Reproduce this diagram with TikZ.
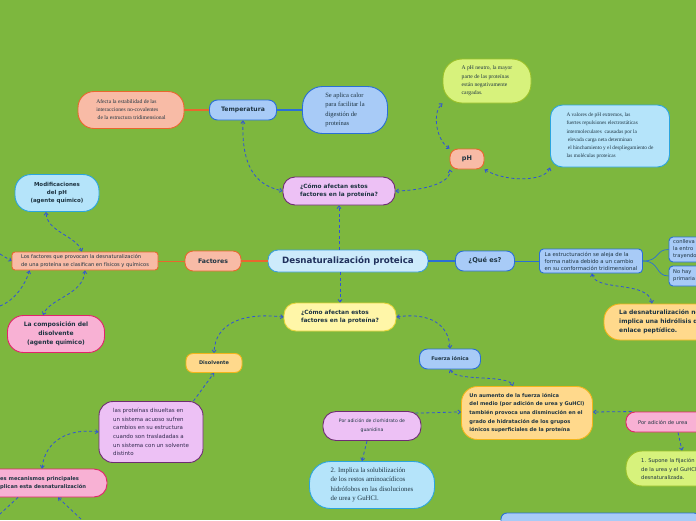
\documentclass[tikz,border=0pt]{standalone}
\usepackage{fontspec}
\setmainfont{Liberation Serif}
\setsansfont{DejaVu Sans}
\usetikzlibrary{arrows.meta,calc}
\definecolor{bg}{RGB}{125,183,62}
\definecolor{salF}{RGB}{248,187,166}
\definecolor{salD}{RGB}{233,103,46}
\definecolor{lbF}{RGB}{168,203,247}
\definecolor{lbD}{RGB}{42,111,214}
\definecolor{skF}{RGB}{181,228,250}
\definecolor{skD}{RGB}{43,165,222}
\definecolor{lavF}{RGB}{237,193,245}
\definecolor{lavD}{RGB}{110,44,115}
\definecolor{yeF}{RGB}{255,246,168}
\definecolor{yeD}{RGB}{229,212,58}
\definecolor{orF}{RGB}{255,217,140}
\definecolor{orD}{RGB}{243,181,27}
\definecolor{piF}{RGB}{248,177,212}
\definecolor{piD}{RGB}{226,35,106}
\definecolor{liF}{RGB}{215,242,124}
\definecolor{liD}{RGB}{154,192,42}
\definecolor{ceF}{RGB}{205,235,251}
\definecolor{ceD}{RGB}{60,158,219}
\definecolor{arr}{RGB}{47,82,216}
\definecolor{txt}{RGB}{30,52,66}
\definecolor{ttl}{RGB}{32,48,92}
\begin{document}
\begin{tikzpicture}[x=1pt,y=-1pt,
  box/.style={draw, line width=0.9pt, inner sep=0pt, text=txt},
  conn/.style={draw=arr, line width=0.8pt, dash pattern=on 3pt off 2.5pt, -, >={Straight Barb[length=2.5pt,width=4pt]}},
  sline/.style={line width=1.6pt},
  tline/.style={line width=0.7pt},
]
\useasboundingbox (0,0) rectangle (696,520);
\clip (0,0) rectangle (696,520);
\fill[bg] (0,0) rectangle (696,520);

% ---------- nodes ----------
\node[box, fill=ceF, draw=ceD, minimum width=160, minimum height=22, rounded corners=10pt, text=ttl,
  font=\sffamily\bfseries\fontsize{8.7}{10}\selectfont] (central) at (348,261) {Desnaturalización proteica};
\node[box, fill=salF, draw=salD, minimum width=56, minimum height=20, rounded corners=8pt,
  font=\sffamily\bfseries\fontsize{6.2}{8}\selectfont] (factores) at (213,261) {Factores};
\node[box, fill=lbF, draw=lbD, minimum width=59, minimum height=20, rounded corners=8pt,
  font=\sffamily\bfseries\fontsize{6.6}{8}\selectfont] (quees) at (485,261) {¿Qué es?};
\node[box, fill=lavF, draw=lavD, minimum width=112, minimum height=28, rounded corners=12pt, align=left,
  font=\sffamily\bfseries\fontsize{5.8}{8.5}\selectfont] (como1) at (339,191) {¿Cómo afectan estos\\factores en la proteína?};
\node[box, fill=yeF, draw=yeD, minimum width=112, minimum height=28, rounded corners=12pt, align=left,
  font=\sffamily\bfseries\fontsize{5.8}{8.5}\selectfont] (como2) at (340,317) {¿Cómo afectan estos\\factores en la proteína?};

\node[box, fill=lbF, draw=lbD, minimum width=67, minimum height=20, rounded corners=8pt,
  font=\sffamily\bfseries\fontsize{6.1}{8}\selectfont] (temp) at (243,110) {Temperatura};
\node[box, fill=salF, draw=salD, minimum width=106, minimum height=37, rounded corners=16pt, align=left,
  font=\fontsize{5.6}{8}\selectfont] (afecta) at (131,110) {Afecta la estabilidad de las\\interacciones no-covalentes\\\ de la estructura tridimensional};
\node[box, fill=lbF, draw=lbD, minimum width=85, minimum height=47, rounded corners=20pt, align=left,
  font=\fontsize{6.5}{9.3}\selectfont] (aplica) at (345,110) {Se aplica calor\\para facilitar la\\digestión de\\proteínas};

\node[box, fill=salF, draw=salD, minimum width=34, minimum height=20, rounded corners=8pt,
  font=\sffamily\bfseries\fontsize{6.5}{8}\selectfont] (ph) at (467,159) {pH};
\node[box, fill=liF, draw=liD, minimum width=88, minimum height=44, rounded corners=19pt, align=left,
  font=\fontsize{5.6}{8.3}\selectfont] (neutro) at (487,81) {A pH neutro, la mayor\\parte de las proteínas\\están negativamente\\cargadas.};
\node[box, fill=skF, draw=skD, minimum width=119, minimum height=62, rounded corners=12pt, align=left,
  font=\fontsize{5.3}{8.2}\selectfont] (valores) at (610,136) {A valores de pH extremos, las\\fuertes repulsiones electrostáticas\\intermoleculares\ \ causadas por la\\\ elevada carga neta determinan\\\ el hinchamiento y el despliegamiento de\\las moléculas proteicas};

\node[box, fill=skF, draw=skD, minimum width=84, minimum height=37, rounded corners=16pt, align=center,
  font=\sffamily\bfseries\fontsize{5.5}{8.3}\selectfont] (modif) at (57,193) {Modificaciones\\del pH\\(agente químico)};
\node[box, fill=salF, draw=salD, minimum width=146, minimum height=18, rounded corners=3pt, align=left,
  font=\sffamily\fontsize{5.1}{8}\selectfont] (lfact) at (85,261) {Los factores que provocan la desnaturalización\\de una proteína se clasifican en físicos y químicos};
\node[box, fill=piF, draw=piD, minimum width=97, minimum height=37, rounded corners=16pt, align=center,
  font=\sffamily\bfseries\fontsize{6}{9}\selectfont] (compos) at (56,334) {La composición del\\disolvente\\(agente químico)};

\node[box, fill=orF, draw=orD, minimum width=56, minimum height=19, rounded corners=7pt,
  font=\sffamily\bfseries\fontsize{5}{8}\selectfont] (disolv) at (214,363) {Disolvente};
\node[box, fill=lbF, draw=lbD, minimum width=61, minimum height=20, rounded corners=8pt,
  font=\sffamily\bfseries\fontsize{5}{8}\selectfont] (fuerza) at (450,359) {Fuerza iónica};

\node[box, fill=lavF, draw=lavD, minimum width=104, minimum height=61, rounded corners=14pt, align=left,
  text=txt!80!violet, font=\sffamily\fontsize{5.5}{8.6}\selectfont] (prot) at (151,432) {las proteínas disueltas en\\un sistema acuoso sufren\\cambios en su estructura\\cuando son trasladadas a\\un sistema con un solvente\\distinto};
\node[box, fill=piF, draw=piD, minimum width=130, minimum height=28, rounded corners=13pt] (mecan) at (42,483) {};
\node[anchor=west, inner sep=0pt, align=left, text=txt,
  font=\sffamily\bfseries\fontsize{5.2}{8.5}\selectfont] (mecant) at (0,483) {es mecanismos principales\\plican esta desnaturalización};

\node[box, fill=orF, draw=orD, minimum width=131, minimum height=53, rounded corners=16pt, align=left,
  font=\sffamily\bfseries\fontsize{5.1}{8.6}\selectfont] (aumento) at (527,413) {Un aumento de la fuerza iónica\\del medio (por adición de urea y GuHCl)\\también provoca una disminución en el\\grado de hidratación de los grupos\\iónicos superficiales de la proteína};
\node[box, fill=lavF, draw=lavD, minimum width=98, minimum height=29, rounded corners=13pt, align=center,
  font=\sffamily\fontsize{4.6}{9}\selectfont] (clorh) at (372,426) {Por adición de clorhidrato de\\guanidina};
\node[box, fill=skF, draw=skD, minimum width=125, minimum height=47, rounded corners=21pt, align=left,
  font=\fontsize{6.8}{9.3}\selectfont] (implica) at (372,485) {2. Implica la solubilización\\de los restos aminoacídicos\\hidrófobos en las disoluciones\\de urea y GuHCl.};

\node[box, fill=piF, draw=piD, minimum width=90, minimum height=20, rounded corners=9pt] (urea) at (671,422) {};
\node[anchor=west, inner sep=0pt, text=txt, font=\sffamily\fontsize{5.1}{8}\selectfont] (ureat) at (638,422) {Por adición de urea};
\node[box, fill=liF, draw=liD, minimum width=100, minimum height=35, rounded corners=16pt] (supone) at (676,468.5) {};
\node[anchor=west, inner sep=0pt, align=left, text=txt, font=\sffamily\fontsize{5.2}{8.5}\selectfont] (sunt) at (641,469) {1. Supone la fijación\\de la urea y el GuHCl\\desnaturalizada.};
\node[box, fill=lbF, draw=lbD, minimum width=199, minimum height=20, rounded corners=6pt] (bottomr) at (600.5,523) {};

\node[box, fill=lbF, draw=lbD, minimum width=103, minimum height=24, rounded corners=4pt, align=left,
  font=\sffamily\fontsize{5.35}{7}\selectfont] (estr) at (591,261) {La estructuración se aleja de la\\forma nativa debido a un cambio\\en su conformación tridimensional};
\node[box, fill=lbF, draw=lbD, minimum width=40, minimum height=25, rounded corners=4pt] (conl) at (689,249.5) {};
\node[anchor=west, inner sep=0pt, align=left, text=txt, font=\sffamily\fontsize{5.2}{7}\selectfont] (conlt) at (673,249.5) {conlleva\\la entro\\trayendo};
\node[box, fill=lbF, draw=lbD, minimum width=40, minimum height=20, rounded corners=4pt] (nohay) at (689,276) {};
\node[anchor=west, inner sep=0pt, align=left, text=txt, font=\sffamily\fontsize{5.2}{7}\selectfont] (nohayt) at (673,276) {No hay\\primaria};
\node[box, fill=orF, draw=orD, minimum width=120, minimum height=36, rounded corners=16pt] (desnat) at (664,322) {};
\node[anchor=west, inner sep=0pt, align=left, text=txt, font=\sffamily\bfseries\fontsize{6}{9}\selectfont] (desnatt) at (619,322) {La desnaturalización no\\implica una hidrólisis del\\enlace peptídico.};

% ---------- free ends ----------
\coordinate (lfl) at (0,254);
\coordinate (lfb) at (0,306);
\coordinate (mb1) at (0,514);
\coordinate (mb2) at (82,520);

% ---------- solid connectors ----------
\draw[salD, sline] (factores.east) -- (central.west);
\draw[salD, tline] (lfact.east) -- (factores.west);
\draw[lbD, sline] (central.east) -- (quees.west);
\draw[lbD, tline] (quees.east) -- (estr.west);
\draw[lbD, tline] (estr.east) .. controls (660,261) and (655,249.5) .. (conl.west);
\draw[lbD, tline] (estr.east) .. controls (660,261) and (655,276) .. (nohay.west);
\draw[salD, sline] (afecta.east) -- (temp.west);
\draw[lbD, sline] (temp.east) -- (aplica.west);

% ---------- dashed connectors ----------
\draw[conn,->] (central.north -| como1.south) -- (como1.south);
\draw[conn,->] (central.south -| como2.north) -- (como2.north);
\draw[conn,<->] (temp.south) .. controls (241,175) and (262,186) .. (como1.west);
\draw[conn,<->] (como1.east) .. controls (432,190) and (452,180) .. (ph.south west);
\draw[conn,<->] (ph.north west) .. controls (436,140) and (432,112) .. (neutro.south west);
\draw[conn,<->] (ph.south east) .. controls (505,182) and (545,182) .. (valores.south west);
\draw[conn,<->] ($(lfact.north)+(-3,0)$) .. controls (75,235) and (47,232) .. ($(modif.south)+(-11,0)$);
\draw[conn,<->] (lfact.south) .. controls (83,295) and (50,298) .. ($(compos.north)+(-13,0)$);
\draw[conn,->] (lfl) -- (lfact.west);
\draw[conn,->] (lfb) .. controls (15,300) and (25,285) .. ($(lfact.south west)+(18,0)$);
\draw[conn,<->] (como2.west) .. controls (240,312) and (215,325) .. (disolv.north);
\draw[conn,<->] (como2.east) .. controls (430,312) and (449,325) .. (fuerza.north);
\draw[conn,->] ($(prot.north east)+(-10,0)$) -- (disolv.south);
\draw[conn,<->] (prot.west) .. controls (70,428) and (45,440) .. (mecan.north);
\draw[conn,<->] (fuerza.south) .. controls (455,382) and (508,374) .. ($(aumento.north)+(-14,0)$);
\draw[conn,->] ($(clorh.north east)+(-6,2)$) .. controls (430,413) and (450,412) .. ($(aumento.west)+(0,-1)$);
\draw[conn,->] ($(urea.north west)+(6,0)$) -- ($(aumento.east)+(0,-1)$);
\draw[conn,->] ($(clorh.south)+(-5,0)$) -- ($(implica.north)+(-10,0)$);
\draw[conn,->] ($(urea.south)+(7,0)$) -- ($(supone.north)+(6,0)$);
\draw[conn,<->] ($(estr.south)+(1,0)$) .. controls (595,292) and (648,280) .. ($(desnat.north)+(-12,0)$);
\draw[conn,<-] ($(mecan.south)+(16,0)$) -- (mb2);
\draw[conn] ($(mecan.south)+(-24,0)$) -- (mb1);
\end{tikzpicture}
\end{document}
